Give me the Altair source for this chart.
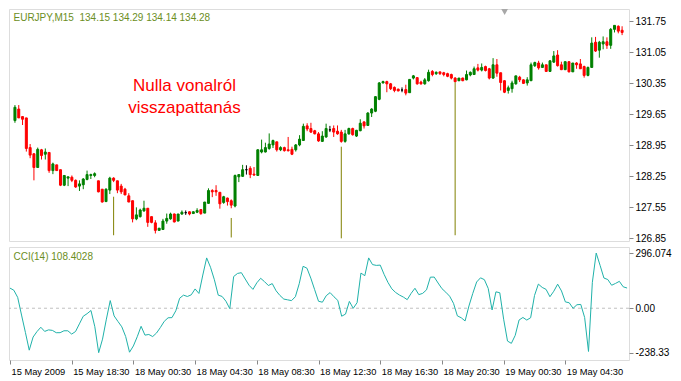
import altair as alt
import pandas as pd
import numpy as np

# ---------------- data ----------------
opens = [129.51,129.77,129.60,129.57,128.90,128.76,128.45,128.85,128.75,128.79,
         128.38,128.51,128.40,128.05,128.21,128.23,128.16,128.03,128.06,128.18,
         128.27,128.27,128.15,127.96,127.68,127.94,128.21,128.15,128.03,127.96,
         127.81,127.70,127.29,127.34,127.47,127.53,127.34,127.20,127.03,127.05,
         127.24,127.29,127.40,127.24,127.40,127.43,127.45,127.41,127.44,127.50,
         127.42,127.64,127.93,127.93,127.89,127.66,127.76,127.70,127.58,128.24,
         128.25,128.40,128.43,128.30,128.27,128.80,128.80,128.88,128.96,129.03,
         128.85,128.90,128.85,128.86,128.85,128.96,129.06,129.39,129.33,129.28,
         129.21,129.04,129.14,129.30,129.33,129.27,129.25,129.04,129.21,129.33,
         129.16,129.28,129.48,129.40,129.68,129.72,129.99,130.36,130.39,130.34,
         130.26,130.22,130.20,130.21,130.14,130.47,130.48,130.38,130.34,130.41,
         130.62,130.57,130.61,130.59,130.57,130.55,130.47,130.41,130.47,130.43,
         130.54,130.55,130.70,130.65,130.73,130.68,130.47,130.77,130.59,130.41,
         130.19,130.23,130.34,130.49,130.43,130.36,130.41,130.75,130.81,130.71,
         130.77,130.62,130.83,130.99,130.77,130.66,130.84,130.61,130.81,130.79,
         130.73,130.53,130.71,131.28,131.10,131.24,131.29,131.21,131.57,131.64,
         131.55]
highs = [129.86,129.86,129.61,129.57,128.98,128.77,128.90,128.87,128.88,128.79,
         128.56,128.51,128.40,128.27,128.24,128.27,128.18,128.16,128.21,128.38,
         128.31,128.34,128.15,127.96,127.98,128.24,128.23,128.15,128.08,127.99,
         127.87,127.70,127.55,127.52,127.70,127.53,127.34,127.26,127.08,127.29,
         127.41,127.43,127.41,127.40,127.48,127.48,127.46,127.46,127.53,127.51,
         127.67,127.98,127.96,128.05,127.89,127.81,127.77,127.73,128.29,128.29,
         128.51,128.50,128.48,128.46,128.86,129.08,129.01,129.22,129.08,129.03,
         128.93,128.92,129.14,128.92,128.98,129.18,129.44,129.45,129.46,129.30,
         129.25,129.27,129.44,129.39,129.40,129.40,129.30,129.30,129.35,129.35,
         129.30,129.54,129.49,129.70,129.79,130.06,130.38,130.41,130.41,130.36,
         130.28,130.23,130.26,130.32,130.44,130.54,130.49,130.41,130.47,130.66,
         130.65,130.62,130.61,130.61,130.59,130.57,130.49,130.47,130.48,130.64,
         130.62,130.73,130.79,130.80,130.75,130.70,130.92,130.90,130.59,130.42,
         130.30,130.41,130.52,130.52,130.44,130.49,130.82,130.84,130.86,130.82,
         130.77,130.87,131.08,131.10,130.84,130.84,130.84,130.81,130.83,130.90,
         130.75,130.73,131.39,131.40,131.31,131.41,131.39,131.60,131.66,131.66,
         131.64]
lows = [129.46,129.57,129.41,128.81,128.66,128.16,128.45,128.63,128.63,128.33,
        128.30,128.38,128.03,128.03,128.03,128.12,127.99,127.92,127.96,128.16,
        128.19,128.23,127.89,127.66,127.67,127.85,128.12,127.87,127.85,127.83,
        127.67,127.21,127.26,127.32,127.45,127.11,127.19,126.96,127.03,127.05,
        127.18,127.27,127.21,127.24,127.38,127.38,127.37,127.40,127.42,127.38,
        127.42,127.63,127.78,127.81,127.52,127.63,127.59,127.53,127.55,128.12,
        128.24,128.29,128.21,128.26,128.27,128.77,128.79,128.85,128.89,128.81,
        128.82,128.81,128.81,128.73,128.81,128.93,129.05,129.27,129.23,129.20,
        129.03,129.03,129.12,129.25,129.14,129.19,129.01,129.01,129.19,129.17,
        129.14,129.27,129.33,129.39,129.59,129.70,129.97,130.35,130.15,130.20,
        130.15,130.17,130.15,130.08,130.14,130.44,130.32,130.32,130.32,130.39,
        130.51,130.54,130.54,130.51,130.49,130.44,130.38,130.40,130.40,130.42,
        130.51,130.54,130.62,130.62,130.62,130.44,130.45,130.50,130.19,130.13,
        130.12,130.14,130.32,130.38,130.34,130.30,130.41,130.72,130.66,130.70,
        130.61,130.61,130.81,130.73,130.65,130.65,130.60,130.61,130.68,130.68,
        130.48,130.51,130.71,131.06,130.93,131.12,131.13,131.13,131.50,131.48,
        131.44]
closes = [129.81,129.57,129.54,128.88,128.73,128.45,128.86,128.72,128.80,128.38,
          128.53,128.38,128.05,128.27,128.24,128.16,128.01,128.08,128.19,128.29,
          128.29,128.31,127.90,127.67,127.96,128.21,128.16,127.94,127.90,127.83,
          127.67,127.29,127.38,127.49,127.53,127.21,127.21,127.03,127.08,127.24,
          127.30,127.40,127.22,127.40,127.44,127.43,127.40,127.45,127.48,127.41,
          127.67,127.93,127.90,127.90,127.63,127.79,127.68,127.60,128.27,128.29,
          128.40,128.40,128.29,128.28,128.85,128.85,128.90,128.98,129.06,128.85,
          128.90,128.83,128.83,128.75,128.96,129.09,129.38,129.32,129.25,129.21,
          129.05,129.16,129.33,129.30,129.25,129.21,129.04,129.21,129.33,129.19,
          129.29,129.45,129.39,129.68,129.77,130.05,130.36,130.39,130.34,130.23,
          130.19,130.18,130.20,130.13,130.44,130.52,130.34,130.34,130.43,130.60,
          130.55,130.60,130.57,130.55,130.51,130.47,130.39,130.47,130.41,130.55,
          130.60,130.68,130.65,130.71,130.64,130.47,130.77,130.58,130.37,130.15,
          130.25,130.36,130.52,130.43,130.35,130.43,130.77,130.82,130.70,130.77,
          130.62,130.86,130.97,130.75,130.66,130.84,130.61,130.81,130.77,130.68,
          130.53,130.71,131.26,131.08,131.28,131.29,131.21,131.57,131.66,131.53,
          131.50]
cci = [108.1,96.7,58.2,-36.6,-129.6,-225.0,-154.6,-125.5,-102.0,-124.4,
       -116.2,-118.9,-131.3,-131.3,-121.0,-121.0,-138.7,-125.0,-84.0,-43.0,
       -29.2,-12.1,-99.1,-238.33,-165.8,-58.6,41.0,-41.2,-71.0,-99.8,
       -152.0,-236.0,-202.5,-152.9,-97.0,-144.3,-140.8,-152.0,-133.0,-103.4,
       -70.4,-51.2,-50.4,-13.7,53.7,70.2,63.0,71.9,103.5,79.2,
       178.1,270.0,219.6,152.9,70.2,63.3,37.5,-2.1,170.1,186.7,
       190.8,156.7,123.1,101.2,136.3,160.7,142.6,121.9,132.2,93.6,
       68.5,49.2,45.1,40.9,61.9,131.7,225.0,214.9,161.5,99.5,
       37.5,32.3,67.3,84.0,61.6,42.1,-42.8,-31.4,36.6,-0.4,
       29.7,188.7,174.6,270.0,234.2,229.9,231.5,181.9,138.6,104.2,
       84.5,70.6,59.9,46.1,79.4,107.1,73.0,79.7,98.5,166.7,
       167.2,135.3,105.0,86.1,64.4,26.3,-40.9,-51.2,-68.1,12.0,
       79.7,140.9,163.1,153.4,106.1,-9.4,88.0,83.1,-59.0,-176.1,
       -188.5,-145.5,-63.3,-49.5,-63.5,-50.9,68.2,129.5,111.6,101.2,
       61.8,91.2,129.1,92.6,34.0,29.4,-0.4,18.7,20.3,-50.0,
       -232.0,139.0,296.074,230.4,162.0,154.1,123.4,133.1,144.3,115.0,
       108.4028]

time_labels = ["15 May 2009", "15 May 18:30", "18 May 00:30", "18 May 04:30",
               "18 May 08:30", "18 May 12:30", "18 May 16:30", "18 May 20:30",
               "19 May 00:30", "19 May 04:30"]

signal_bar = [26, 57, 86, 116]
signal_top = [127.79, 127.31, 128.92, 130.38]
signal_bottom = [126.92, 126.87, 126.85, 126.92]

price_ticks = [126.85, 127.55, 128.25, 128.95, 129.65, 130.35, 131.05, 131.75]

header_text = "EURJPY,M15\u00a0 134.15 134.29 134.14 134.28"
cci_text = "CCI(14) 108.4028"
title_lines = ["Nulla vonalról", "visszapattanás"]

# ---------------- build ----------------
N = len(closes)
df = pd.DataFrame({"i": np.arange(N), "open": opens, "high": highs,
                   "low": lows, "close": closes, "cci": cci})
df["dir"] = np.where(df["close"] > df["open"], "up",
                     np.where(df["close"] < df["open"], "down", "flat"))
sig = pd.DataFrame({"i": signal_bar, "top": signal_top, "bottom": signal_bottom})

OLIVE = "#6B8E23"
FONT = "Liberation Sans"
W, H1, H2 = 620, 232, 113
sx = W / 643.0
sy = H1 / 241.0

xscale = alt.Scale(domain=[-0.25, 160.5], nice=False, zero=False)
pscale = alt.Scale(domain=[126.79, 132.03], nice=False, zero=False)
cscale = alt.Scale(domain=[-277.8, 328.6], nice=False, zero=False)
dir_scale = alt.Scale(domain=["up", "down", "flat"], range=["#008000", "#FF0000", "#000000"])

price_axis = alt.Axis(orient="right", values=price_ticks, format=".2f", title=None,
                      grid=False, domain=False, tickSize=4, labelPadding=2,
                      labelFlush=False, labelOverlap=False)

def X(): return alt.X("i:Q", scale=xscale, axis=None)
def YP(f): return alt.Y(f, scale=pscale, axis=price_axis)

base = alt.Chart(df)
wicks = base.mark_rule(strokeWidth=1).encode(
    x=X(), y=YP("low:Q"), y2="high:Q",
    color=alt.Color("dir:N", scale=dir_scale, legend=None))
bodies = base.mark_bar(size=2, strokeWidth=1).encode(
    x=X(), y=YP("open:Q"), y2="close:Q",
    color=alt.Color("dir:N", scale=dir_scale, legend=None),
    stroke=alt.Stroke("dir:N", scale=dir_scale, legend=None))
signals = alt.Chart(sig).mark_rule(color="#808000", strokeWidth=1).encode(
    x=X(), y=YP("top:Q"), y2="bottom:Q")

one = pd.DataFrame({"k": [0]})
header = alt.Chart(one).mark_text(text=header_text, align="left", baseline="alphabetic",
                                  font=FONT, fontSize=10, color=OLIVE).encode(
    x=alt.value(4.5), y=alt.value(12))
title = alt.Chart(one).mark_text(text=title_lines, align="center", baseline="alphabetic",
                                 font=FONT, fontSize=17, lineHeight=22, color="#FF0000").encode(
    x=alt.value((184 - 2) * sx), y=alt.value((87 - 2) * sy))
shift_marker = alt.Chart(one).mark_point(shape="triangle-down", filled=True, size=45,
                                         color="#A8A8A8", opacity=1).encode(
    x=alt.value((516 - 2) * sx), y=alt.value(3))

price_panel = alt.layer(signals, wicks, bodies, header, title, shift_marker).properties(
    width=W, height=H1)

cmin, cmax = min(cci), max(cci)
cci_label_expr = "datum.value === 0 ? '0.00' : replace(format(datum.value, '.6~g'), '\u2212', '-')"
label_expr = "[" + ",".join("'%s'" % t for t in time_labels) + "][round(datum.value / 16)]"

x_axis = alt.Axis(values=[16 * k for k in range(len(time_labels))], labelExpr=label_expr,
                  title=None, grid=False, domain=False, tickSize=4, labelAlign="left",
                  labelPadding=3, labelFlush=False, labelOverlap=False, labelOffset=1,
                  labelFontSize=9.3)
cci_axis = alt.Axis(orient="right", values=[cmin, 0, cmax], labelExpr=cci_label_expr,
                    title=None, grid=False, domain=False, tickSize=4, labelPadding=2,
                    labelFlush=False, labelOverlap=False)

cbase = alt.Chart(df)
zero_line = alt.Chart(one).mark_rule(color="#C0C0C0", strokeDash=[3, 3], strokeWidth=1).encode(
    y=alt.datum(0, scale=cscale, axis=cci_axis))
cci_line = cbase.mark_line(color="#20B2AA", strokeWidth=1, clip=True).encode(
    x=alt.X("i:Q", scale=xscale, axis=x_axis),
    y=alt.Y("cci:Q", scale=cscale, axis=cci_axis))
cci_header = alt.Chart(one).mark_text(text=cci_text, align="left", baseline="alphabetic",
                                      font=FONT, fontSize=10, color=OLIVE).encode(
    x=alt.value(4.5), y=alt.value(12.5))

cci_panel = alt.layer(zero_line, cci_line, cci_header).properties(width=W, height=H2)

chart = alt.vconcat(price_panel, cci_panel, spacing=2).properties(
    padding={"left": 0, "top": 0, "right": 0, "bottom": 0}
).configure_view(
    stroke=OLIVE, strokeWidth=1
).configure_axis(
    labelColor=OLIVE, tickColor=OLIVE, labelFont=FONT, labelFontSize=10
).configure(background="white")

chart.save("out.html", embed_options={"renderer": "svg", "actions": False})
